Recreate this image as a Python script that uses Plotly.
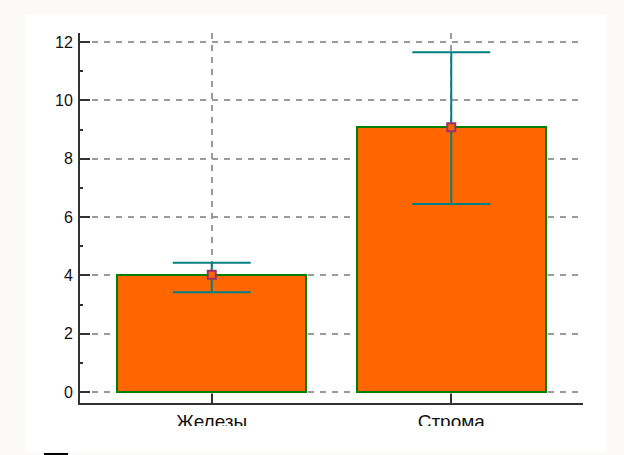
import plotly.graph_objects as go

# Group names and measured means with their upper / lower error limits
categories = ["Железы", "Строма"]
means = [4.02, 9.08]
err_plus = [0.41, 2.57]
err_minus = [0.60, 2.63]
y_ticks = [0, 2, 4, 6, 8, 10, 12]

W, H = 624, 455
L, R, T, B = 80, 41, 33, 52
pw, ph = W - L - R, H - T - B


def px_x(x):
    return (x - L) / pw


def px_y(y):
    return (H - B - y) / ph


fig = go.Figure()

fig.add_trace(go.Bar(
    x=categories,
    y=means,
    width=0.79,
    marker=dict(color="#ff6600", line=dict(color="#008000", width=2)),
    showlegend=False,
    hoverinfo="skip",
))

fig.add_trace(go.Scatter(
    x=categories,
    y=means,
    mode="markers",
    marker=dict(symbol="square", size=8, color="#ff6600",
                line=dict(color="#993366", width=2)),
    error_y=dict(type="data", symmetric=False, array=err_plus,
                 arrayminus=err_minus, color="#008080", thickness=2, width=39),
    showlegend=False,
))

grid = dict(showgrid=True, gridcolor="#9a9a9a", gridwidth=2, griddash="6px,6px")

fig.update_xaxes(
    type="category",
    range=[-0.55, 1.55],
    showline=True, linecolor="#333333", linewidth=2,
    ticks="inside", ticklen=9, tickwidth=2, tickcolor="#333333",
    tickfont=dict(family="Liberation Sans, Arial, sans-serif", size=19, color="#111111"),
    zeroline=False,
    **grid,
)

fig.update_yaxes(
    range=[-0.377, 12.31],
    tickvals=y_ticks,
    showline=True, linecolor="#333333", linewidth=2,
    ticks="inside", ticklen=10, tickwidth=2, tickcolor="#333333",
    tickfont=dict(family="Liberation Sans, Arial, sans-serif", size=16, color="#111111"),
    ticklabelstandoff=2,
    zeroline=False,
    minor=dict(dtick=1, ticks="inside", ticklen=3, tickwidth=2,
               tickcolor="#333333", showgrid=False),
    **grid,
)

shapes = [
    # white panel inside the faint outer border
    dict(type="rect", xref="paper", yref="paper", layer="below",
         x0=px_x(25), x1=px_x(607), y0=px_y(452), y1=px_y(14),
         fillcolor="#ffffff", line=dict(width=0)),
    # lower edge of the panel trims the category labels
    dict(type="rect", xref="paper", yref="paper", layer="above",
         x0=px_x(100), x1=px_x(590), y0=px_y(452), y1=px_y(426),
         fillcolor="#ffffff", line=dict(width=0)),
    # small black stroke at the bottom edge
    dict(type="rect", xref="paper", yref="paper", layer="above",
         x0=px_x(44), x1=px_x(68), y0=px_y(456), y1=px_y(453),
         fillcolor="#000000", line=dict(width=0)),
]

fig.update_layout(
    width=W, height=H,
    margin=dict(l=L, r=R, t=T, b=B, pad=0),
    paper_bgcolor="#fcf9f9",
    plot_bgcolor="rgba(0,0,0,0)",
    shapes=shapes,
    bargap=0,
)

fig.write_html("out.html")
